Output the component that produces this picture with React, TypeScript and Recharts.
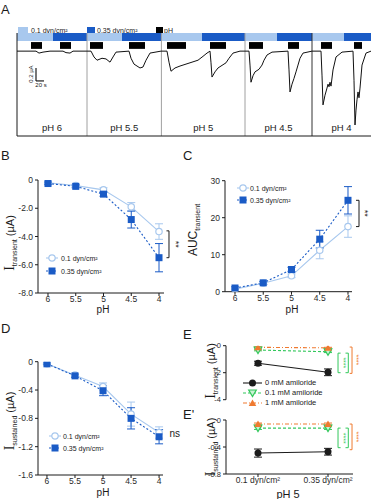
import React from 'react';
import { LineChart, Line, XAxis, YAxis, ErrorBar, ReferenceLine, ReferenceArea, ReferenceDot } from 'recharts';

const FONT = '"Liberation Sans", Arial, sans-serif';
const LIGHT = '#a8c8ee';
const DARK = '#1a5bc6';
const GREEN = '#33c85c';
const ORANGE = '#ef7a30';
const INK = '#1b1b1b';

// A: current traces, time (s) and current (µA), one run per pH segment
const TRACE_T = [
  0, 47.5, 55, 65, 82.5, 115, 122.5, 132.5, 140, 175,
  185, 192.5, 200, 212.5, 222.5, 232.5, 240, 247.5, 280, 285, 292.5, 307.5, 315, 322.5, 332.5, 360,
  375, 380, 385, 395, 407.5, 432.5, 452.5, 465, 475, 482.5, 485, 487.5, 495, 502.5, 512.5, 522.5, 530, 540, 557.5, 570,
  580, 582.5, 585, 590, 595, 605, 612.5, 617.5, 625, 637.5, 677.5, 680, 682.5, 687.5, 692.5, 697.5, 702.5, 707.5, 715, 737.5,
  760, 762.5, 765, 770, 775, 777.5, 780, 782.5, 785, 790, 797.5, 812.5, 840, 842.5, 845, 847.5, 850, 852.5, 855, 857.5, 862.5, 872.5, 885,
];
const TRACE_I = [
  0, 0, -0.03, -0.015, 0, 0, -0.023, -0.03, 0, 0,
  0, -0.09, -0.14, -0.11, -0.12, -0.17, -0.09, -0.015, 0, -0.11, -0.2, -0.26, -0.245, -0.14, -0.03, 0,
  0, -0.17, -0.31, -0.26, -0.23, -0.18, -0.14, -0.08, -0.03, 0, -0.18, -0.4, -0.32, -0.26, -0.22, -0.18, -0.11, -0.03, 0, 0,
  0, -0.215, -0.48, -0.38, -0.32, -0.28, -0.215, -0.14, -0.06, -0.015, 0, -0.29, -0.63, -0.51, -0.42, -0.32, -0.215, -0.11, -0.03, 0,
  0, -0.37, -0.83, -0.68, -0.57, -0.51, -0.55, -0.48, -0.54, -0.29, -0.09, -0.015, 0, -0.45, -1.14, -0.91, -0.75, -0.63, -0.72, -0.57, -0.215, -0.03, 0,
];
const SEG_EDGES = [0, 175, 361, 570, 737.5, 885];
const SEG_LABELS = ['pH 6', 'pH 5.5', 'pH 5', 'pH 4.5', 'pH 4'];
const SHEAR_SWITCH = [90, 262.5, 462.5, 650, 817.5];
const PH_ON = [35, 107.5, 182.5, 280, 375, 482.5, 580, 677.5, 760, 842.5];
const PH_OFF = [62.5, 135, 215, 320, 422.5, 522.5, 615, 705, 787.5, 862.5];

// B-D: pH response, 0.1 vs 0.35 dyn/cm2
const PH = [6, 5.5, 5, 4.5, 4];
const B_LOW = [-0.2, -0.4, -0.7, -1.9, -3.65];
const B_LOW_ERR = [0.08, 0.1, 0.15, 0.3, 0.55];
const B_HIGH = [-0.25, -0.45, -1.0, -2.8, -5.5];
const B_HIGH_ERR = [0.08, 0.1, 0.15, 0.6, 1.0];
const C_LOW = [0.7, 2.3, 4.3, 11.2, 17.6];
const C_LOW_ERR = [0.3, 0.4, 0.5, 2.3, 2.9];
const C_HIGH = [1.0, 2.4, 6.0, 14.2, 24.7];
const C_HIGH_ERR = [0.3, 0.4, 0.6, 2.4, 3.7];
const D_LOW = [-0.03, -0.19, -0.35, -0.74, -1.0];
const D_LOW_ERR = [0.01, 0.02, 0.05, 0.17, 0.08];
const D_HIGH = [-0.03, -0.2, -0.41, -0.8, -1.06];
const D_HIGH_ERR = [0.01, 0.02, 0.07, 0.15, 0.1];

// E: pH 5 with amiloride
const SHEAR_TICKS = ['0.1 dyn/cm²', '0.35 dyn/cm²'];
const ET_0 = [-1.3, -1.97];
const ET_0_ERR = [0.15, 0.25];
const ET_01 = [-0.32, -0.45];
const ET_01_ERR = [0.06, 0.06];
const ET_1 = [-0.12, -0.16];
const ET_1_ERR = [0.04, 0.04];
const ES_0 = [-0.49, -0.47];
const ES_0_ERR = [0.06, 0.05];
const ES_01 = [-0.12, -0.12];
const ES_01_ERR = [0.02, 0.02];
const ES_1 = [-0.06, -0.06];
const ES_1_ERR = [0.015, 0.015];

const traceData = TRACE_T.map((t, k) => ({ t, i: TRACE_I[k] }));
const phData = (lo: number[], loE: number[], hi: number[], hiE: number[]) =>
  PH.map((ph, k) => ({ ph, lo: lo[k], loE: loE[k], hi: hi[k], hiE: hiE[k] }));
const eData = (a: number[], aE: number[], b: number[], bE: number[], c: number[], cE: number[]) =>
  SHEAR_TICKS.map((_, k) => ({ x: k, a: a[k], aE: aE[k], b: b[k], bE: bE[k], c: c[k], cE: cE[k] }));

const bData = phData(B_LOW, B_LOW_ERR, B_HIGH, B_HIGH_ERR);
const cData = phData(C_LOW, C_LOW_ERR, C_HIGH, C_HIGH_ERR);
const dData = phData(D_LOW, D_LOW_ERR, D_HIGH, D_HIGH_ERR);
const etData = eData(ET_0, ET_0_ERR, ET_01, ET_01_ERR, ET_1, ET_1_ERR);
const esData = eData(ES_0, ES_0_ERR, ES_01, ES_01_ERR, ES_1, ES_1_ERR);

function mark(kind: string, cx: number, cy: number, key?: string) {
  if (cx == null || cy == null) return <g key={key} />;
  switch (kind) {
    case 'open':
      return <circle key={key} cx={cx} cy={cy} r={3.2} fill="#fff" stroke={LIGHT} strokeWidth={1.2} />;
    case 'square':
      return <rect key={key} x={cx - 3.5} y={cy - 3.5} width={7} height={7} fill={DARK} />;
    case 'dot':
      return <circle key={key} cx={cx} cy={cy} r={3.5} fill={INK} />;
    case 'down':
      return <polygon key={key} points={`${cx - 3.8},${cy - 3} ${cx + 3.8},${cy - 3} ${cx},${cy + 3.5}`} fill="#c9f2d4" stroke={GREEN} strokeWidth={1.2} />;
    default:
      return <polygon key={key} points={`${cx - 3.8},${cy + 3} ${cx + 3.8},${cy + 3} ${cx},${cy - 3.5}`} fill={ORANGE} />;
  }
}

const series = (key: string, errKey: string, kind: string, color: string, dash?: string) => (
  <Line
    key={key}
    type="linear"
    dataKey={key}
    stroke={color}
    strokeWidth={1.1}
    strokeDasharray={dash}
    dot={(p: any) => mark(kind, p.cx, p.cy, `${key}-${p.index}`)}
    activeDot={false}
    isAnimationActive={false}
  >
    <ErrorBar dataKey={errKey} width={4} strokeWidth={1} stroke={color} direction="y" />
  </Line>
);

const bracket = (id: string, x: number, tickX: number, y1: number, y2: number, color: string) => [
  <ReferenceLine key={id + 'v'} segment={[{ x, y: y1 }, { x, y: y2 }]} stroke={color} strokeWidth={1} ifOverflow="visible" />,
  <ReferenceLine key={id + 't'} segment={[{ x: tickX, y: y1 }, { x, y: y1 }]} stroke={color} strokeWidth={1} ifOverflow="visible" />,
  <ReferenceLine key={id + 'b'} segment={[{ x: tickX, y: y2 }, { x, y: y2 }]} stroke={color} strokeWidth={1} ifOverflow="visible" />,
];

const note = (id: string, x: number, y: number, text: string, color: string, size: number, angle = 90) => (
  <ReferenceDot
    key={id}
    x={x}
    y={y}
    ifOverflow="visible"
    shape={(p: any) => (
      <text x={p.cx} y={p.cy} transform={`rotate(${angle} ${p.cx} ${p.cy})`} textAnchor="middle" dominantBaseline="central" fontSize={size} fill={color}>
        {text}
      </text>
    )}
  />
);

const tickStyle = { fontSize: 8.5, fill: '#2a2a2a' };
const axisStyle = { stroke: INK, strokeWidth: 1 };
const fmt1 = (v: number) => (v === 0 ? '0' : v.toFixed(1));

const Txt = ({ x, y, size = 10, children, anchor = 'middle', color = '#1a1a1a' }: any) => (
  <div
    style={{
      position: 'absolute',
      left: x,
      top: y,
      transform: `translate(${anchor === 'middle' ? '-50%' : '0'}, -50%)`,
      fontSize: size,
      color,
      whiteSpace: 'nowrap',
      lineHeight: 1,
    }}
  >
    {children}
  </div>
);

const YTitle = ({ cx, cy, main, sub, unit, serif = true, size = 11 }: any) => (
  <div
    style={{
      position: 'absolute',
      left: cx,
      top: cy,
      transform: 'translate(-50%, -50%) rotate(-90deg)',
      whiteSpace: 'nowrap',
      fontSize: size,
      lineHeight: 1,
      color: '#1a1a1a',
    }}
  >
    <span style={{ fontFamily: serif ? '"Liberation Serif", serif' : FONT, fontSize: serif ? size + 3 : size + 1 }}>{main}</span>
    <span style={{ fontSize: size - 4, position: 'relative', top: 3 }}>{sub}</span>
    {unit ? <span>{' ' + unit}</span> : null}
  </div>
);

const Legend = ({ markerX, textX, ys, rows, lineW = 12, size = 7 }: any) => (
  <>
    {rows.map((r: any, k: number) => (
      <React.Fragment key={r.label}>
        <svg style={{ position: 'absolute', left: markerX - lineW / 2 - 1, top: ys[k] - 5 }} width={lineW + 2} height={10}>
          <line x1={1} y1={5} x2={lineW + 1} y2={5} stroke={r.color} strokeWidth={1.1} strokeDasharray={r.dash} />
          {mark(r.kind, lineW / 2 + 1, 5)}
        </svg>
        <Txt x={textX} y={ys[k]} size={size} anchor="start">{r.label}</Txt>
      </React.Fragment>
    ))}
  </>
);

const SHEAR_ROWS = [
  { label: '0.1 dyn/cm²', color: LIGHT, kind: 'open' },
  { label: '0.35 dyn/cm²', color: DARK, kind: 'square', dash: '2 2' },
];
const AMIL_ROWS = [
  { label: '0 mM amiloride', color: INK, kind: 'dot' },
  { label: '0.1 mM amiloride', color: GREEN, kind: 'down', dash: '3 2' },
  { label: '1 mM amiloride', color: ORANGE, kind: 'up', dash: '4 2 1 2' },
];

const pos = (left: number, top: number) => ({ position: 'absolute' as const, left, top });
const xAxisProps = { tick: tickStyle, axisLine: axisStyle, tickLine: axisStyle, tickSize: 3, tickMargin: 0 };

export default function App() {
  return (
    <div style={{ position: 'absolute', left: 0, top: 0, width: 371, height: 499, background: '#fff', fontFamily: FONT, overflow: 'hidden' }}>
      {/* Panel letters */}
      <Txt x={1} y={9} size={13} anchor="start">A</Txt>
      <Txt x={1} y={155} size={13} anchor="start">B</Txt>
      <Txt x={183} y={155} size={13} anchor="start">C</Txt>
      <Txt x={1} y={328} size={13} anchor="start">D</Txt>
      <Txt x={183} y={334} size={13} anchor="start">E</Txt>
      <Txt x={183} y={414} size={13} anchor="start">E'</Txt>

      {/* A legend */}
      <div style={{ ...pos(18, 27), width: 10, height: 6, background: LIGHT }} />
      <Txt x={31} y={30} size={7} anchor="start">0.1 dyn/cm²</Txt>
      <div style={{ ...pos(87, 27), width: 8, height: 6, background: DARK }} />
      <Txt x={97} y={30} size={7} anchor="start">0.35 dyn/cm²</Txt>
      <div style={{ ...pos(156, 27), width: 7, height: 6, background: '#000' }} />
      <Txt x={164} y={30} size={7} anchor="start">pH</Txt>

      {/* A traces */}
      <div style={pos(16, 32)}>
        <LineChart width={356} height={105} data={traceData} margin={{ top: 1, right: 1, bottom: 1, left: 1 }}>
          <XAxis dataKey="t" type="number" domain={[0, 885]} hide allowDataOverflow />
          <YAxis type="number" domain={[-1.31, 0.28]} hide allowDataOverflow />
          {SEG_LABELS.map((lab, k) => (
            <ReferenceArea key={'sl' + k} x1={SEG_EDGES[k]} x2={SHEAR_SWITCH[k]} y1={0.157} y2={0.28} fill={LIGHT} fillOpacity={1} stroke="none" ifOverflow="visible" />
          ))}
          {SEG_LABELS.map((lab, k) => (
            <ReferenceArea key={'sd' + k} x1={SHEAR_SWITCH[k]} x2={SEG_EDGES[k + 1]} y1={0.157} y2={0.28} fill={DARK} fillOpacity={1} stroke="none" ifOverflow="visible" />
          ))}
          {PH_ON.map((on, k) => (
            <ReferenceArea key={'ph' + k} x1={on} x2={PH_OFF[k]} y1={0.035} y2={0.14} fill="#000" fillOpacity={1} stroke="none" ifOverflow="visible" />
          ))}
          {SEG_LABELS.map((lab, k) => (
            <ReferenceArea
              key={'lab' + k}
              x1={SEG_EDGES[k]}
              x2={SEG_EDGES[k + 1]}
              y1={-1.26}
              y2={-1.09}
              fill="none"
              stroke="none"
              label={{ value: lab, position: 'center', fontSize: 9.5, fill: '#222' }}
            />
          ))}
          {SEG_EDGES.slice(1, 5).map((x, k) => (
            <ReferenceLine key={'sep' + k} x={x} stroke={k === 3 ? '#333' : '#a0a0a0'} strokeWidth={1} />
          ))}
          <ReferenceLine x={0} stroke={INK} strokeWidth={1} />
          <ReferenceLine y={-1.31} stroke={INK} strokeWidth={1} />
          <ReferenceLine segment={[{ x: 47.5, y: -0.26 }, { x: 47.5, y: -0.46 }]} stroke={INK} strokeWidth={1.2} />
          <ReferenceLine segment={[{ x: 47.5, y: -0.46 }, { x: 67.5, y: -0.46 }]} stroke={INK} strokeWidth={1.2} />
          {note('sbv', 35, -0.355, '0.2 µA', '#222', 6, -90)}
          {note('sbh', 60, -0.53, '20 s', '#222', 6, 0)}
          <Line type="linear" dataKey="i" stroke="#111" strokeWidth={1} dot={false} activeDot={false} isAnimationActive={false} />
        </LineChart>
      </div>

      {/* B */}
      <div style={pos(0, 170)}>
        <LineChart width={190} height={145} data={bData} margin={{ top: 10, right: 26, bottom: 0, left: 0 }}>
          <XAxis dataKey="ph" type="number" domain={[3.91, 6.18]} reversed allowDataOverflow ticks={PH} tickFormatter={String} height={22} {...xAxisProps} />
          <YAxis type="number" domain={[-8, 0]} ticks={[0, -2, -4, -6, -8]} tickFormatter={fmt1} width={38} tick={tickStyle} axisLine={axisStyle} tickLine={axisStyle} tickSize={3} allowDataOverflow />
          {bracket('b', 3.82, 3.865, -3.6, -5.5, INK)}
          {note('bs', 3.69, -4.55, '**', INK, 9)}
          {series('lo', 'loE', 'open', LIGHT)}
          {series('hi', 'hiE', 'square', DARK, '2 2')}
        </LineChart>
      </div>
      <YTitle cx={10} cy={243} main="I" sub="transient" unit="(µA)" />
      <Txt x={103} y={310} size={10}>pH</Txt>
      <Legend markerX={52} textX={61} ys={[258, 271]} rows={SHEAR_ROWS} />

      {/* C */}
      <div style={pos(180, 170)}>
        <LineChart width={191} height={145} data={cData} margin={{ top: 10.7, right: 19, bottom: 0, left: 0 }}>
          <XAxis dataKey="ph" type="number" domain={[3.929, 6.177]} reversed allowDataOverflow ticks={PH} tickFormatter={String} height={23.3} {...xAxisProps} />
          <YAxis type="number" domain={[0, 30]} ticks={[0, 10, 20, 30]} width={45} tick={tickStyle} axisLine={axisStyle} tickLine={axisStyle} tickSize={3} allowDataOverflow />
          {bracket('c', 3.805, 3.858, 24.7, 17.6, INK)}
          {note('cs', 3.7, 21.2, '**', INK, 9)}
          {series('lo', 'loE', 'open', LIGHT)}
          {series('hi', 'hiE', 'square', DARK, '2 2')}
        </LineChart>
      </div>
      <YTitle cx={193} cy={230} main="AUC" sub="transient" serif={false} />
      <Txt x={292} y={310} size={10}>pH</Txt>
      <Legend markerX={243} textX={250} ys={[188, 200]} rows={SHEAR_ROWS} />

      {/* D */}
      <div style={pos(0, 350)}>
        <LineChart width={190} height={149} data={dData} margin={{ top: 11.7, right: 27, bottom: 0, left: 0 }}>
          <XAxis dataKey="ph" type="number" domain={[3.93, 6.16]} reversed allowDataOverflow ticks={PH} tickFormatter={String} height={24} {...xAxisProps} />
          <YAxis type="number" domain={[-1.6, 0]} ticks={[0, -0.4, -0.8, -1.2, -1.6]} tickFormatter={fmt1} width={38} tick={tickStyle} axisLine={axisStyle} tickLine={axisStyle} tickSize={3} allowDataOverflow />
          {note('ns', 3.72, -1.02, 'ns', INK, 10, 0)}
          {series('lo', 'loE', 'open', LIGHT)}
          {series('hi', 'hiE', 'square', DARK, '2 2')}
        </LineChart>
      </div>
      <YTitle cx={10} cy={421} main="I" sub="sustained" unit="(µA)" />
      <Txt x={103} y={493} size={10}>pH</Txt>
      <Legend markerX={55} textX={63} ys={[436, 448]} rows={SHEAR_ROWS} />

      {/* E transient */}
      <div style={pos(180, 335)}>
        <LineChart width={191} height={70} data={etData} margin={{ top: 10.7, right: 18, bottom: 5.3, left: 0 }}>
          <XAxis dataKey="x" type="number" domain={[-0.457, 1.357]} hide allowDataOverflow />
          <YAxis type="number" domain={[-4, 0]} ticks={[0, -2, -4]} width={46} tick={{ ...tickStyle, fontSize: 7.5 }} axisLine={axisStyle} tickLine={axisStyle} tickSize={3} allowDataOverflow />
          {bracket('eg', 1.143, 1.18, -0.55, -2.0, GREEN)}
          {bracket('eg2', 1.29, 1.25, -0.55, -2.0, GREEN)}
          {note('egs', 1.22, -1.27, '****', GREEN, 7)}
          {bracket('eo', 1.343, 1.31, -0.1, -2.05, ORANGE)}
          {note('eos', 1.41, -1.05, '****', ORANGE, 7)}
          {series('a', 'aE', 'dot', INK)}
          {series('b', 'bE', 'down', GREEN, '3 2')}
          {series('c', 'cE', 'up', ORANGE, '4 2 1 2')}
        </LineChart>
      </div>
      <YTitle cx={211} cy={371} main="I" sub="transient" unit="(µA)" />
      <Legend markerX={252} textX={265} ys={[383, 393, 403]} rows={AMIL_ROWS} lineW={19} size={7.5} />

      {/* E sustained */}
      <div style={pos(180, 410)}>
        <LineChart width={191} height={89} data={esData} margin={{ top: 10, right: 18, bottom: 0, left: 0 }}>
          <XAxis dataKey="x" type="number" domain={[-0.457, 1.357]} allowDataOverflow ticks={[0, 1]} tickFormatter={(v: number) => SHEAR_TICKS[v]} height={25} {...xAxisProps} />
          <YAxis type="number" domain={[-0.8, 0]} ticks={[0, -0.4, -0.8]} tickFormatter={fmt1} width={46} tick={{ ...tickStyle, fontSize: 7.5 }} axisLine={axisStyle} tickLine={axisStyle} tickSize={3} allowDataOverflow />
          {bracket('sg', 1.143, 1.18, -0.12, -0.41, GREEN)}
          {bracket('sg2', 1.29, 1.25, -0.12, -0.41, GREEN)}
          {note('sgs', 1.22, -0.27, '****', GREEN, 7)}
          {bracket('so', 1.343, 1.31, -0.06, -0.44, ORANGE)}
          {note('sos', 1.41, -0.25, '****', ORANGE, 7)}
          {series('a', 'aE', 'dot', INK)}
          {series('b', 'bE', 'down', GREEN, '3 2')}
          {series('c', 'cE', 'up', ORANGE, '4 2 1 2')}
        </LineChart>
      </div>
      <YTitle cx={211} cy={447} main="I" sub="sustained" unit="(µA)" />
      <Txt x={288} y={494} size={11}>pH 5</Txt>
    </div>
  );
}
